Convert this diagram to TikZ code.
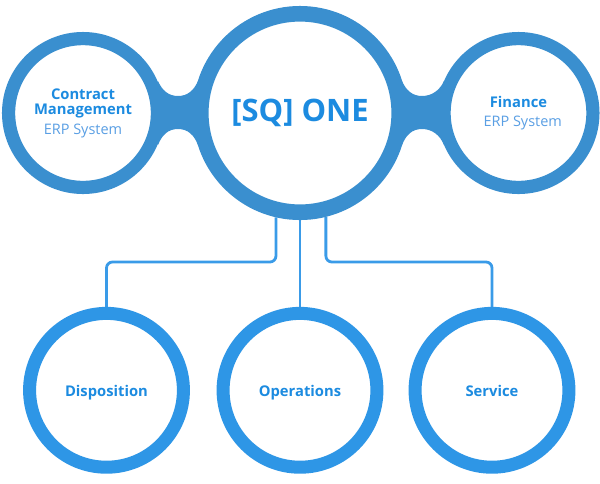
\documentclass[tikz,border=0pt]{standalone}
\usepackage{fontspec}
\setmainfont{Open Sans}
\usetikzlibrary{backgrounds}
\definecolor{ringtop}{HTML}{3A8FCF}
\definecolor{ringlow}{HTML}{2E96E6}
\definecolor{wire}{HTML}{3A9BE8}
\definecolor{titletext}{HTML}{1C8BE0}
\definecolor{subtext}{HTML}{5A9FE4}
\tikzset{
	toptier/.style={circle,draw=ringtop,fill=white,line width=0.33cm,minimum size=3.72cm,inner sep=0pt,align=center,font=\bfseries\fontsize{10.5pt}{11pt}\selectfont,text=titletext},
	lowtier/.style={circle,draw=ringlow,fill=white,line width=0.325cm,minimum size=3.845cm,inner sep=0pt,align=center,text height=8.1pt,text depth=0pt,font=\bfseries\fontsize{10.5pt}{12pt}\selectfont,text=titletext},
	wireline/.style={draw=wire,line width=0.07cm,rounded corners=0.15cm},
	neckfill/.style={fill=ringtop}
}
\newcommand{\subline}[1]{{\fontsize{10.3pt}{11pt}\selectfont\mdseries\color{subtext}#1}}
\begin{document}
\begin{tikzpicture}[x=0.025cm,y=-0.025cm]
	\useasboundingbox (0,0) rectangle (600,483);
	\node[toptier,line width=0.39cm,minimum size=4.96cm,text height=12pt,text depth=0pt,font=\bfseries\fontsize{22pt}{24pt}\selectfont] (hub) at (300,113) {[SQ] ONE};
	\node[toptier] (contract) at (83,113) {Contract\\Management\\[3pt]\subline{ERP System}};
	\node[toptier] (finance) at (518.5,113) {Finance\\[3pt]\hspace*{6pt}\subline{ERP System}};
	\node[lowtier] (disposition) at (106.5,390.3) {Disposition};
	\node[lowtier] (operations) at (300,390.3) {Operations};
	\node[lowtier] (service) at (492,390.3) {Service};
	\coordinate (leftbus) at (106.5,262);
	\coordinate (rightbus) at (492,262);
	\begin{scope}[on background layer]
		\fill[neckfill] (158,81) .. controls (162,90) and (168,96) .. (178,96) .. controls (188,96) and (194,90) .. (198,81) -- (198,145) .. controls (194,135) and (188,129) .. (178,129) .. controls (168,129) and (162,135) .. (158,145) -- cycle;
		\fill[neckfill] (402,81) .. controls (406,90) and (412,96) .. (422,96) .. controls (432,96) and (440,90) .. (444,81) -- (444,145) .. controls (440,135) and (432,129) .. (422,129) .. controls (412,129) and (406,135) .. (402,145) -- cycle;
		\draw[wireline] (hub.-103.5) |- (leftbus) -- (disposition.north);
		\draw[wireline] (hub.south) -- (operations.north);
		\draw[wireline] (hub.-76.5) |- (rightbus) -- (service.north);
	\end{scope}
\end{tikzpicture}
\end{document}
